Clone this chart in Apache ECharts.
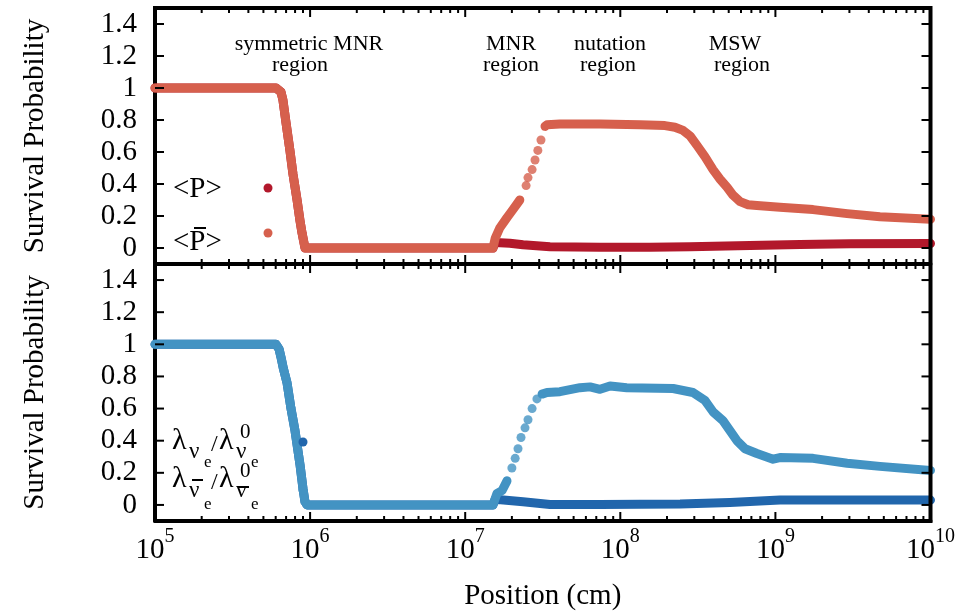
<!DOCTYPE html>
<html>
<head>
<meta charset="utf-8">
<script src="https://cdn.jsdelivr.net/npm/echarts@6/dist/echarts.min.js"></script>
<style>
  html, body { margin: 0; padding: 0; background: #fff; }
  #chart { width: 978px; height: 613px; }
</style>
</head>
<body>
<div id="chart"></div>
<script>
// y tick labels (both panels)
const yTicks = [0, 0.2, 0.4, 0.6, 0.8, 1, 1.2, 1.4];
// x decades with a major tick
const xMajor = [1e6, 1e7, 1e8, 1e9];

// top panel: <P> (dark red)
const pX = [1e5, 6.03e5, 6.49e5, 6.68e5, 7.0e5, 7.41e5, 7.76e5, 8.24e5, 8.61e5, 8.87e5, 9.27e5,
  1.51e7, 1.56e7, 1.94e7, 2.36e7, 3.52e7, 7.40e7, 1.55e8, 2.81e8, 6.85e8, 1.44e9, 3.03e9, 1e10];
const pY = [1, 1, 0.975, 0.925, 0.78, 0.61, 0.46, 0.30, 0.17, 0.094, 0,
  0, 0.035, 0.03, 0.02, 0.008, 0.005, 0.005, 0.008, 0.015, 0.022, 0.026, 0.028];

// top panel: <P-bar> (orange), dense part, sparse dots, dense part
const pbLoX = [1e5, 6.03e5, 6.49e5, 6.68e5, 7.0e5, 7.41e5, 7.76e5, 8.24e5, 8.61e5, 8.87e5, 9.27e5,
  1.51e7, 1.56e7, 1.67e7, 1.86e7, 2.03e7, 2.25e7];
const pbLoY = [1, 1, 0.975, 0.925, 0.78, 0.61, 0.46, 0.30, 0.17, 0.094, 0,
  0, 0.06, 0.125, 0.19, 0.24, 0.30];
const pbDotX = [2.47e7, 2.54e7, 2.70e7, 2.82e7, 2.94e7, 3.08e7];
const pbDotY = [0.39, 0.44, 0.49, 0.55, 0.61, 0.675];
const pbHiX = [3.27e7, 3.37e7, 4.08e7, 7.40e7, 1.34e8, 1.94e8, 2.25e8, 2.54e8, 2.82e8, 3.13e8, 3.52e8,
  3.96e8, 4.40e8, 4.88e8, 5.33e8, 5.92e8, 6.67e8, 7.60e8, 1.07e9, 1.75e9, 2.90e9, 4.72e9, 1e10];
const pbHiY = [0.76, 0.77, 0.775, 0.775, 0.77, 0.765, 0.755, 0.735, 0.70, 0.64, 0.57,
  0.49, 0.43, 0.38, 0.33, 0.29, 0.27, 0.265, 0.255, 0.24, 0.215, 0.195, 0.18];

// bottom panel: lambda_nu_e (dark blue)
const lnX = [1e5, 6.03e5, 6.31e5, 6.49e5, 6.72e5, 7.10e5, 7.53e5, 8.0e5, 8.61e5, 9.0e5, 9.27e5, 9.55e5,
  1.51e7, 1.56e7, 2.36e7, 3.52e7, 7.40e7, 2.43e8, 5.09e8, 1.07e9, 3.03e9, 1e10];
const lnY = [1, 1, 0.97, 0.92, 0.85, 0.76, 0.60, 0.46, 0.25, 0.10, 0.02, 0,
  0, 0.035, 0.02, 0.003, 0.003, 0.006, 0.015, 0.03, 0.03, 0.03];

// bottom panel: lambda_nubar_e (light blue)
const lbLoX = [1e5, 6.03e5, 6.31e5, 6.49e5, 6.72e5, 7.10e5, 7.53e5, 8.0e5, 8.61e5, 9.0e5, 9.27e5, 9.55e5,
  1.51e7, 1.60e7, 1.73e7, 1.86e7];
const lbLoY = [1, 1, 0.97, 0.92, 0.85, 0.76, 0.60, 0.46, 0.25, 0.10, 0.02, 0,
  0, 0.07, 0.09, 0.15];
const lbDotX = [2.0e7, 2.10e7, 2.19e7, 2.29e7, 2.43e7, 2.54e7, 2.70e7, 2.90e7];
const lbDotY = [0.23, 0.29, 0.35, 0.42, 0.48, 0.53, 0.60, 0.66];
const lbHiX = [3.13e7, 3.37e7, 4.08e7, 5.50e7, 6.38e7, 7.40e7, 8.59e7, 1.10e8, 2.19e8, 2.94e8, 3.52e8,
  3.96e8, 4.59e8, 5.65e8, 6.37e8, 7.60e8, 9.66e8, 1.07e9, 1.75e9, 2.90e9, 4.72e9, 1e10];
const lbHiY = [0.69, 0.70, 0.705, 0.73, 0.735, 0.72, 0.74, 0.73, 0.725, 0.70, 0.65,
  0.58, 0.525, 0.40, 0.35, 0.32, 0.285, 0.295, 0.29, 0.26, 0.24, 0.215];

const RED = '#B2182B', ORANGE = '#D6604D', DBLUE = '#2166AC', LBLUE = '#4393C3';
const FONT = '"Liberation Serif", "Times New Roman", serif';

// minor ticks 2..9 per decade
const minorX = [];
for (let d = 5; d < 10; d++) {
  for (let m = 2; m <= 9; m++) minorX.push(m * Math.pow(10, d));
}

const pairs = (xs, ys) => xs.map((x, i) => [x, ys[i]]);

function xAxisDef(grid, labels) {
  const ax = {
    type: 'log', gridIndex: grid, position: 'bottom', min: 1e5, max: 1e10,
    axisLine: { show: true, onZero: false, lineStyle: { color: '#000', width: 4 } },
    axisTick: { show: false },
    axisLabel: { show: false },
    splitLine: { show: false }
  };
  if (labels) {
    ax.axisLabel = {
      show: true, margin: 6, color: '#000',
      formatter: v => '{b|10}{s|' + Math.round(Math.log10(v)) + '}',
      rich: {
        b: { fontSize: 29, fontFamily: FONT, color: '#000', lineHeight: 46 },
        s: { fontSize: 20, fontFamily: FONT, color: '#000', lineHeight: 20, verticalAlign: 'top' }
      }
    };
    ax.name = 'Position (cm)';
    ax.nameLocation = 'middle';
    ax.nameGap = 60;
    ax.nameTextStyle = { fontSize: 29, fontFamily: FONT, color: '#000', lineHeight: 30 };
  }
  return ax;
}
function yAxisDef(grid) {
  return {
    type: 'value', gridIndex: grid, position: 'left', min: -0.1, max: 1.5,
    axisLine: { show: true, onZero: false, lineStyle: { color: '#000', width: 4 } },
    axisTick: { show: false },
    axisLabel: {
      show: true, margin: 18, customValues: yTicks, color: '#000', fontSize: 29, fontFamily: FONT,
      formatter: v => String(Math.round(v * 10) / 10)
    },
    splitLine: { show: false },
    name: 'Survival Probability', nameLocation: 'middle', nameGap: 105,
    nameTextStyle: { fontSize: 29, fontFamily: FONT, color: '#000' }
  };
}

function lineS(name, color, data, i) {
  return {
    name, type: 'line', xAxisIndex: i, yAxisIndex: i, data, color,
    showSymbol: false, symbol: 'circle', smooth: false, silent: true,
    lineStyle: { width: 9, color, cap: 'round', join: 'round' }
  };
}
function dotS(name, color, data, i) {
  return {
    name, type: 'scatter', xAxisIndex: i, yAxisIndex: i, data, color,
    symbol: 'circle', symbolSize: 9, silent: true, itemStyle: { color }
  };
}

const txt = (s, x, y, size, align) => ({
  type: 'text', x, y, z: 100,
  style: { text: s, font: size + 'px ' + FONT, fill: '#000', textAlign: align || 'left', textVerticalAlign: 'middle' }
});
const bar = (x, y, w) => ({ type: 'rect', z: 100, shape: { x, y, width: w, height: 2 }, style: { fill: '#000' } });
const seg = (x1, y1, x2, y2, w) => ({
  type: 'line', z: 100, silent: true,
  shape: { x1, y1, x2, y2 }, style: { stroke: '#000', lineWidth: w || 2 }
});

const labels = [
  txt('symmetric MNR', 309, 44, 22, 'center'), txt('region', 300, 65, 22, 'center'),
  txt('MNR', 511, 44, 22, 'center'), txt('region', 511, 65, 22, 'center'),
  txt('nutation', 610, 44, 22, 'center'), txt('region', 608, 65, 22, 'center'),
  txt('MSW', 735, 44, 22, 'center'), txt('region', 742, 65, 22, 'center'),
  // top legend texts
  txt('<P>', 173, 189, 29), txt('<P>', 173, 242, 29), bar(194, 227, 12),
  // bottom legend texts
  txt('\u03bb', 172, 441, 30), txt('\u03bd', 189, 452, 23), txt('e', 204, 463, 17),
  txt('/', 211, 445, 24), txt('\u03bb', 219, 441, 30), txt('0', 240, 432, 21),
  txt('\u03bd', 236, 452, 23), txt('e', 251, 463, 17),
  txt('\u03bb', 172, 479, 30), txt('\u03bd', 189, 491, 23), bar(192, 479, 11), txt('e', 204, 505, 17),
  txt('/', 211, 483, 24), txt('\u03bb', 219, 479, 30), txt('0', 240, 471, 21),
  txt('\u03bd', 236, 491, 23), bar(238, 486, 11), txt('e', 251, 505, 17)
];

const chart = echarts.init(document.getElementById('chart'));
chart.setOption({
  animation: false,
  grid: [
    { left: 155, right: 47.5, top: 8, height: 256 },
    { left: 155, right: 47.5, top: 264, height: 257 }
  ],
  xAxis: [xAxisDef(0, false), xAxisDef(1, true)],
  yAxis: [yAxisDef(0), yAxisDef(1)],
  legend: [
    {
      data: ['<P>', '<P\u0304>'], orient: 'vertical', left: 263.5, top: 183.5, padding: 0,
      itemWidth: 9, itemHeight: 9, itemGap: 36, icon: 'circle', selectedMode: false,
      formatter: () => '', textStyle: { fontSize: 9, lineHeight: 9 }
    },
    {
      data: ['\u03bb\u03bde', '\u03bb\u03bd\u0304e'], orient: 'vertical', left: 298.5, top: 437.5, padding: 0,
      itemWidth: 9, itemHeight: 9, itemGap: 39, icon: 'circle', selectedMode: false,
      formatter: () => '', textStyle: { fontSize: 9, lineHeight: 9 }
    }
  ],
  series: [
    lineS('<P>', RED, pairs(pX, pY), 0),
    lineS('<P\u0304>', ORANGE, pairs(pbLoX, pbLoY), 0),
    dotS('<P\u0304>', ORANGE, pairs(pbDotX, pbDotY), 0),
    lineS('<P\u0304>', ORANGE, pairs(pbHiX, pbHiY), 0),
    lineS('\u03bb\u03bde', DBLUE, pairs(lnX, lnY), 1),
    lineS('\u03bb\u03bd\u0304e', LBLUE, pairs(lbLoX, lbLoY), 1),
    dotS('\u03bb\u03bd\u0304e', LBLUE, pairs(lbDotX, lbDotY), 1),
    lineS('\u03bb\u03bd\u0304e', LBLUE, pairs(lbHiX, lbHiY), 1)
  ]
});

// frame (top/right edges) and all ticks, placed through the axes' own scales
const px = v => chart.convertToPixel({ xAxisIndex: 0 }, v);
const py = (i, v) => chart.convertToPixel({ yAxisIndex: i }, v);
const L = px(1e5), R = px(1e10);
const frame = [];
frame.push({
  type: 'polyline', z: 100, silent: true,
  shape: { points: [[L - 2, py(0, 1.5)], [R, py(0, 1.5)], [R, py(1, -0.1) + 2]] },
  style: { stroke: '#000', lineWidth: 4, fill: null, lineJoin: 'miter' }
});
[0, 1].forEach(i => {
  const top = py(i, 1.5), bot = py(i, -0.1);
  xMajor.forEach(v => {
    const x = px(v);
    frame.push(seg(x, top, x, top + 9), seg(x, bot, x, bot - 9));
  });
  minorX.forEach(v => {
    const x = px(v);
    frame.push(seg(x, top, x, top + 5), seg(x, bot, x, bot - 5));
  });
  yTicks.forEach(v => {
    const y = py(i, v);
    frame.push(seg(L, y, L + 9, y), seg(R, y, R - 9, y));
  });
});
chart.setOption({ graphic: labels.concat(frame) });

window.addEventListener('resize', () => chart.resize());
</script>
</body>
</html>
